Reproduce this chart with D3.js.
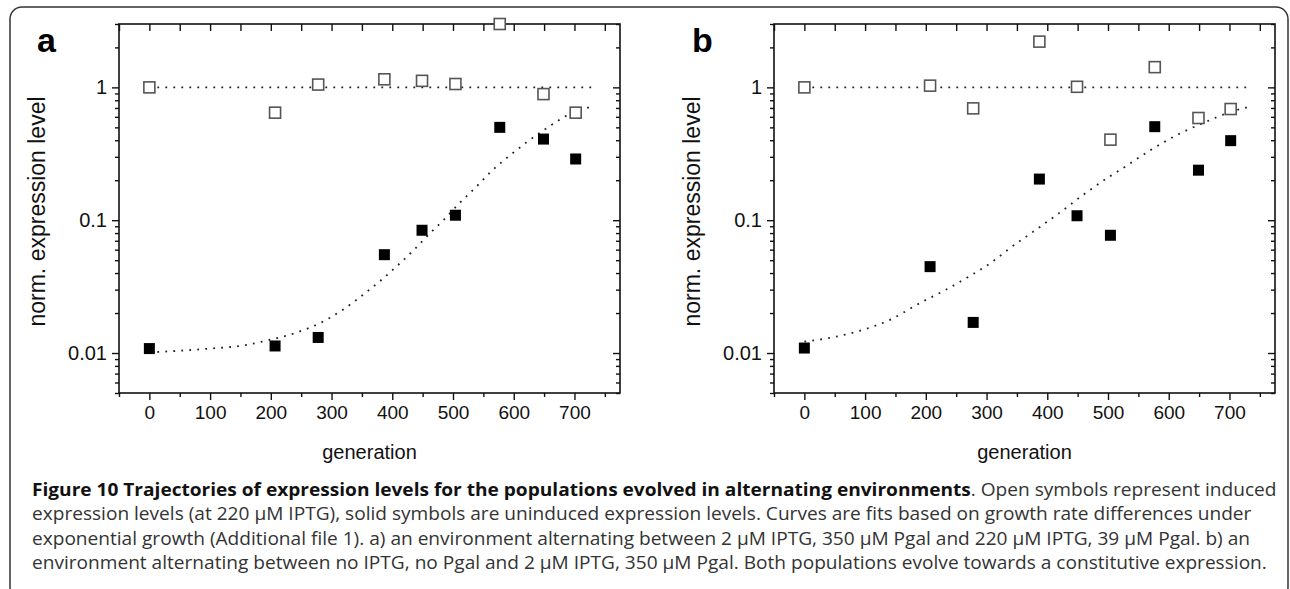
<!DOCTYPE html>
<html lang="en">
<head>
<meta charset="UTF-8">
<title>Figure 10</title>
<script src="https://cdn.jsdelivr.net/npm/d3@7/dist/d3.min.js"></script>
<style>
  body { margin: 0; background: #fff; }
  .ax text { font-family: "Liberation Sans", Arial, sans-serif; }
</style>
</head>
<body>
<script>
// generations at which the populations were measured
const generations = [0, 207, 278, 387, 449, 504, 577, 649, 702];

// open symbols: induced expression (220 uM IPTG), solid: uninduced
const inducedA   = [1.0, 0.645, 1.05, 1.15, 1.12, 1.06, 3.0, 0.89, 0.645];
const uninducedA = [0.0108, 0.0113, 0.0131, 0.055, 0.084, 0.109, 0.50, 0.408, 0.289];
const inducedB   = [1.0, 1.03, 0.695, 2.21, 1.01, 0.404, 1.42, 0.588, 0.687];
const uninducedB = [0.0109, 0.0447, 0.0170, 0.204, 0.108, 0.077, 0.506, 0.238, 0.397];

// fitted curves
const fitGenA = [0, 100, 155, 193, 243, 281, 320, 358, 383, 408, 435, 460, 485, 509, 537, 562, 601, 649, 697, 730];
const fitValA = [0.0101, 0.0108, 0.0114, 0.0124, 0.0143, 0.0168, 0.0214, 0.0289, 0.0358, 0.0453, 0.0594, 0.078, 0.101, 0.132, 0.176, 0.231, 0.327, 0.475, 0.645, 0.72];
const fitGenB = [0, 38, 91, 140, 192, 231, 269, 308, 343, 382, 420, 459, 497, 530, 569, 623, 653, 705, 735];
const fitValB = [0.0122, 0.0129, 0.0147, 0.0177, 0.0240, 0.0296, 0.0372, 0.0481, 0.0638, 0.0851, 0.1135, 0.155, 0.205, 0.256, 0.335, 0.46, 0.53, 0.66, 0.72];
const flatGen = [0, 735];
const flatVal = [1, 1];

const xTicks = [0, 100, 200, 300, 400, 500, 600, 700];
const xMinor = [-50, 50, 150, 250, 350, 450, 550, 650, 750];
const yTicks = [0.01, 0.1, 1];
const yTickLabels = ["0.01", "0.1", "1"];

const captionBold = "Figure 10 Trajectories of expression levels for the populations evolved in alternating environments";
const captionLines = [
  ". Open symbols represent induced",
  "expression levels (at 220 µM IPTG), solid symbols are uninduced expression levels. Curves are fits based on growth rate differences under",
  "exponential growth (Additional file 1). a) an environment alternating between 2 µM IPTG, 350 µM Pgal and 220 µM IPTG, 39 µM Pgal. b) an",
  "environment alternating between no IPTG, no Pgal and 2 µM IPTG, 350 µM Pgal. Both populations evolve towards a constitutive expression."
];

const W = 1290, H = 589;
const svg = d3.select("body").append("svg").attr("width", W).attr("height", H);

// rounded figure border (right and bottom edges fall off the picture)
svg.append("rect")
  .attr("x", 10).attr("y", 7).attr("width", 1278).attr("height", 592)
  .attr("rx", 12).attr("fill", "none").attr("stroke", "#333").attr("stroke-width", 1.5);

const plotTop = 24, plotBottom = 393, plotW = 501;
const y = d3.scaleLog().domain([0.005, 3]).range([plotBottom, plotTop]);
const yMinor = y.ticks().filter(v => !yTicks.some(t => Math.abs(t - v) < 1e-9));

const panels = [
  { label: "a", left: 119, induced: inducedA, uninduced: uninducedA, fitG: fitGenA, fitV: fitValA },
  { label: "b", left: 774, induced: inducedB, uninduced: uninducedB, fitG: fitGenB, fitV: fitValB }
];

panels.forEach(p => {
  const x = d3.scaleLinear().domain([-50, 775]).range([p.left, p.left + plotW]);
  const g = svg.append("g").attr("class", "ax");
  const noDomain = s => s.select(".domain").remove();

  // bottom axis: outward ticks with labels
  g.append("g").attr("transform", `translate(0,${plotBottom})`)
    .call(d3.axisBottom(x).tickValues(xTicks).tickSize(7).tickPadding(6))
    .call(noDomain)
    .call(s => s.selectAll("text").attr("font-size", 19).attr("fill", "#111"));
  g.append("g").attr("transform", `translate(0,${plotBottom})`)
    .call(d3.axisBottom(x).tickValues(xMinor).tickSize(4).tickFormat(""))
    .call(noDomain);
  // top axis: inward ticks
  g.append("g").attr("transform", `translate(0,${plotTop})`)
    .call(d3.axisTop(x).tickValues(xTicks.concat(xMinor)).tickSize(-7).tickFormat(""))
    .call(noDomain);

  // left axis: outward ticks with labels
  g.append("g").attr("transform", `translate(${p.left},0)`)
    .call(d3.axisLeft(y).tickValues(yTicks).tickSize(7).tickPadding(5).tickFormat((d, i) => yTickLabels[i]))
    .call(noDomain)
    .call(s => s.selectAll("text").attr("font-size", 20).attr("fill", "#111"));
  g.append("g").attr("transform", `translate(${p.left},0)`)
    .call(d3.axisLeft(y).tickValues(yMinor).tickSize(4).tickFormat(""))
    .call(noDomain);
  // right axis: inward ticks
  g.append("g").attr("transform", `translate(${p.left + plotW},0)`)
    .call(d3.axisRight(y).tickValues(yTicks).tickSize(-7).tickFormat(""))
    .call(noDomain);
  g.append("g").attr("transform", `translate(${p.left + plotW},0)`)
    .call(d3.axisRight(y).tickValues(yMinor).tickSize(-4).tickFormat(""))
    .call(noDomain);
  g.selectAll(".tick line").attr("stroke", "#111").attr("stroke-width", 1.4);

  // frame
  g.append("rect").attr("x", p.left).attr("y", plotTop)
    .attr("width", plotW).attr("height", plotBottom - plotTop)
    .attr("fill", "none").attr("stroke", "#111").attr("stroke-width", 1.6);

  // fitted curves
  const line = d3.line().x(d => x(d[0])).y(d => y(d[1])).curve(d3.curveMonotoneX);
  [[flatGen, flatVal], [p.fitG, p.fitV]].forEach(([gs, vs]) => {
    g.append("path").attr("d", line(gs.map((v, i) => [v, vs[i]])))
      .attr("fill", "none").attr("stroke", "#222").attr("stroke-width", 1.8)
      .attr("stroke-dasharray", "1.8,6.2");
  });

  // symbols
  const s = 11;
  g.selectAll(".open").data(p.induced).join("rect")
    .attr("x", (d, i) => x(generations[i]) - s / 2).attr("y", d => y(d) - s / 2)
    .attr("width", s).attr("height", s)
    .attr("fill", "#fff").attr("stroke", "#555").attr("stroke-width", 1.6);
  g.selectAll(".solid").data(p.uninduced).join("rect")
    .attr("x", (d, i) => x(generations[i]) - s / 2).attr("y", d => y(d) - s / 2)
    .attr("width", s).attr("height", s).attr("fill", "#000");

  // titles
  g.append("text").attr("x", p.left + plotW / 2).attr("y", 459)
    .attr("text-anchor", "middle").attr("font-size", 20).attr("fill", "#111").text("generation");
  g.append("text").attr("transform", `translate(${p.left - 74},${(plotTop + plotBottom) / 2 + 3}) rotate(-90)`)
    .attr("text-anchor", "middle").attr("font-size", 23).attr("fill", "#111").text("norm. expression level");
  g.append("text").attr("x", p.left - 82).attr("y", 52)
    .attr("font-size", 34).attr("font-weight", "bold").attr("fill", "#000").text(p.label);
});

// caption, squeezed horizontally so line 1 runs 32..1277 like the original
const cap = svg.append("g").attr("font-family", "'Open Sans', sans-serif").attr("font-size", 18).attr("fill", "#333");
const baselines = [496, 520, 545, 569];
const rows = captionLines.map((t, i) => {
  const tx = cap.append("text").attr("x", 0).attr("y", 0);
  if (i === 0) tx.append("tspan").attr("font-weight", "bold").attr("fill", "#111").text(captionBold);
  tx.append("tspan").text(t);
  return tx;
});
const k = 1245 / rows[0].node().getComputedTextLength();
rows.forEach((tx, i) => tx.attr("transform", `translate(32,${baselines[i]}) scale(${k},1)`));
</script>
</body>
</html>
